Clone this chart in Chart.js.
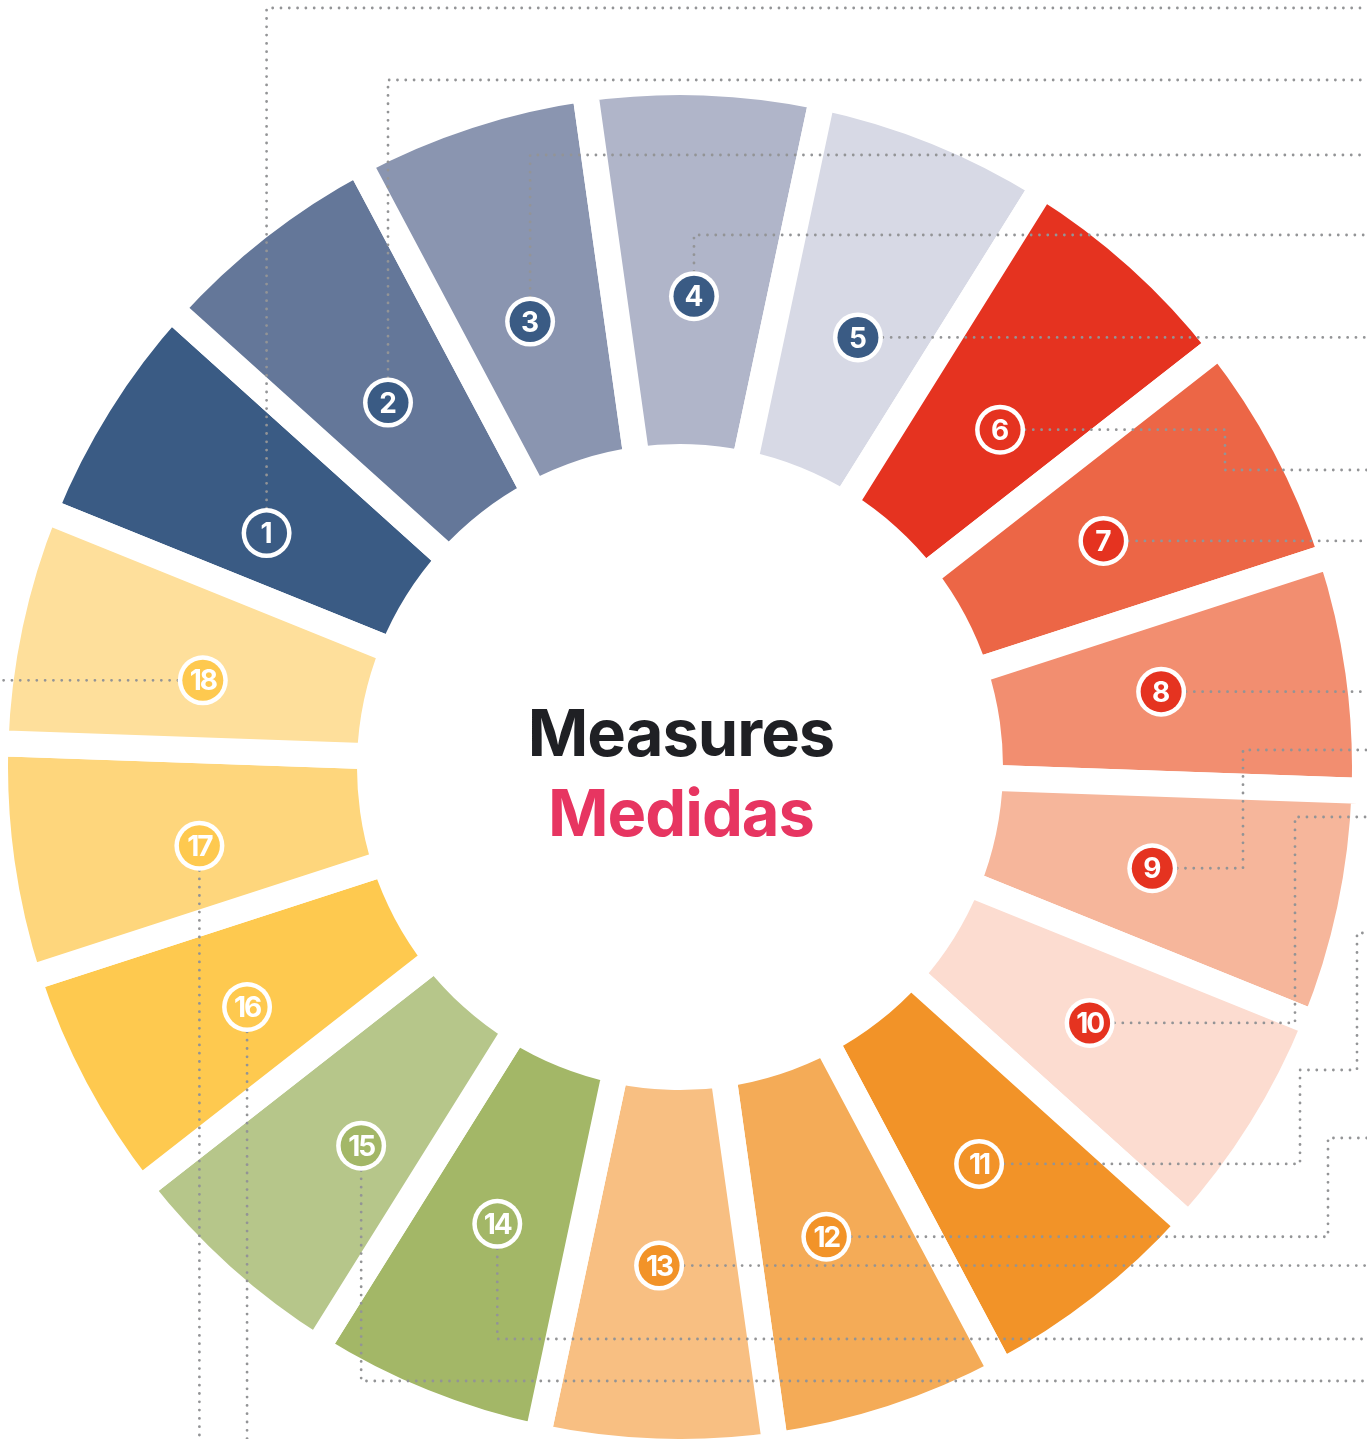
<!DOCTYPE html>
<html>
<head>
<meta charset="utf-8">
<title>Measures / Medidas</title>
<script src="https://cdn.jsdelivr.net/npm/chart.js@4.4.0/dist/chart.umd.min.js"></script>
<style>
  html, body { margin: 0; padding: 0; background: #fff; }
  #wrap { position: relative; width: 1367px; height: 1439px; }
</style>
</head>
<body>
<div id="wrap"><canvas id="wheel"></canvas></div>
<script>
const measureLabels = ['1', '2', '3', '4', '5', '6', '7', '8', '9', '10', '11', '12', '13', '14', '15', '16', '17', '18'];
const measureShares = [1, 1, 1, 1, 1, 1, 1, 1, 1, 1, 1, 1, 1, 1, 1, 1, 1, 1];
const titleEn = 'Measures';
const titleEs = 'Medidas';

const sliceColors = [
  '#3a5b84', '#647799', '#8a95b0', '#b0b5c9', '#d7d9e5',
  '#e53320', '#ec6646', '#f28e70', '#f6b69b', '#fcdcd0',
  '#f29328', '#f4ab57', '#f8bf82',
  '#a3b767', '#b6c68a',
  '#fec94f', '#fed67c', '#fedf9b'
];
const badgeColors = [
  '#3a5b84', '#3a5b84', '#3a5b84', '#3a5b84', '#3a5b84',
  '#e53320', '#e53320', '#e53320', '#e53320', '#e53320',
  '#f29328', '#f29328', '#f29328',
  '#a3b767', '#a3b767',
  '#fec94f', '#fec94f', '#fec94f'
];

// badge placement: [distance from centre px, shift in degrees from the slice middle]
const badgeSpots = [
  [475, -2.5], [467, -0.7], [470, -0.6], [471, -0.3], [465, 0.5], [465, 1.5],
  [480, -0.1], [487, -0.9], [483, 0.1], [483, 0.0], [497, 1.0], [492, 0.7],
  [499, 0.4], [492, -0.2], [495, -1.9], [495, -1.0], [487, -1.3], [485, -1.7]
];

// dotted leader routes from each badge: ['x', v] / ['y', v] moves along that axis, R/B/L = canvas edge
const leaderRoutes = [
  [['y', 8], ['x', 'R']],
  [['y', 80], ['x', 'R']],
  [['y', 155], ['x', 'R']],
  [['y', 235], ['x', 'R']],
  [['x', 'R']],
  [['x', 1225], ['y', 470], ['x', 'R']],
  [['x', 'R']],
  [['x', 'R']],
  [['x', 1243], ['y', 750], ['x', 'R']],
  [['x', 1295], ['y', 817], ['x', 'R']],
  [['x', 1300], ['y', 1070], ['x', 1357], ['y', 933], ['x', 'R']],
  [['x', 1328], ['y', 1138], ['x', 'R']],
  [['x', 'R']],
  [['y', 1339], ['x', 'R']],
  [['y', 1381], ['x', 'R']],
  [['y', 'B']],
  [['y', 'B']],
  [['x', 'L']]
];

const wheelDecor = {
  id: 'wheelDecor',
  afterDatasetsDraw(chart) {
    const ctx = chart.ctx;
    const arcs = chart.getDatasetMeta(0).data;
    const W = chart.width, H = chart.height;
    const spots = arcs.map((arc, i) => {
      const a = (arc.startAngle + arc.endAngle) / 2 + badgeSpots[i][1] * Math.PI / 180;
      return { x: arc.x + badgeSpots[i][0] * Math.cos(a), y: arc.y + badgeSpots[i][0] * Math.sin(a) };
    });

    // leaders
    ctx.save();
    ctx.strokeStyle = '#939496';
    ctx.lineWidth = 2.8;
    ctx.lineCap = 'round';
    ctx.setLineDash([0, 8.3]);
    spots.forEach((p, i) => {
      let x = p.x, y = p.y;
      ctx.beginPath();
      ctx.moveTo(x, y);
      leaderRoutes[i].forEach(([axis, v]) => {
        const val = v === 'R' ? W : v === 'B' ? H : v === 'L' ? 0 : v;
        if (axis === 'x') x = val; else y = val;
        ctx.lineTo(x, y);
      });
      ctx.stroke();
    });
    ctx.restore();

    // numbered badges
    ctx.save();
    ctx.textAlign = 'center';
    ctx.textBaseline = 'alphabetic';
    ctx.font = 'bold 28px Inter';
    spots.forEach((p, i) => {
      ctx.beginPath();
      ctx.arc(p.x, p.y, 25, 0, Math.PI * 2);
      ctx.fillStyle = '#ffffff';
      ctx.fill();
      ctx.beginPath();
      ctx.arc(p.x, p.y, 20.5, 0, Math.PI * 2);
      ctx.fillStyle = badgeColors[i];
      ctx.fill();
      ctx.fillStyle = '#ffffff';
      ctx.letterSpacing = measureLabels[i].length > 1 ? '-2px' : '0px';
      ctx.fillText(measureLabels[i], p.x, p.y + 10.2);
    });
    ctx.restore();

    // centre title
    const cx = arcs[0].x;
    ctx.save();
    ctx.textAlign = 'center';
    ctx.textBaseline = 'alphabetic';
    ctx.font = 'bold 65px Inter';
    ctx.letterSpacing = '-1px';
    ctx.fillStyle = '#1f2024';
    ctx.fillText(titleEn, cx + 1, 756);
    ctx.fillStyle = '#e73561';
    ctx.fillText(titleEs, cx + 1, 836);
    ctx.restore();
  }
};

new Chart(document.getElementById('wheel'), {
  type: 'doughnut',
  data: {
    labels: measureLabels,
    datasets: [{
      data: measureShares,
      backgroundColor: sliceColors,
      borderColor: '#ffffff',
      borderWidth: 26,
      clip: false
    }]
  },
  options: {
    responsive: true,
    maintainAspectRatio: false,
    animation: false,
    events: [],
    rotation: -68,
    radius: 685,
    cutout: '45.26%',
    layout: { padding: { left: 0, right: 7, top: 95, bottom: 0 } },
    plugins: {
      legend: { display: false },
      tooltip: { enabled: false }
    }
  },
  plugins: [wheelDecor]
});
</script>
</body>
</html>
